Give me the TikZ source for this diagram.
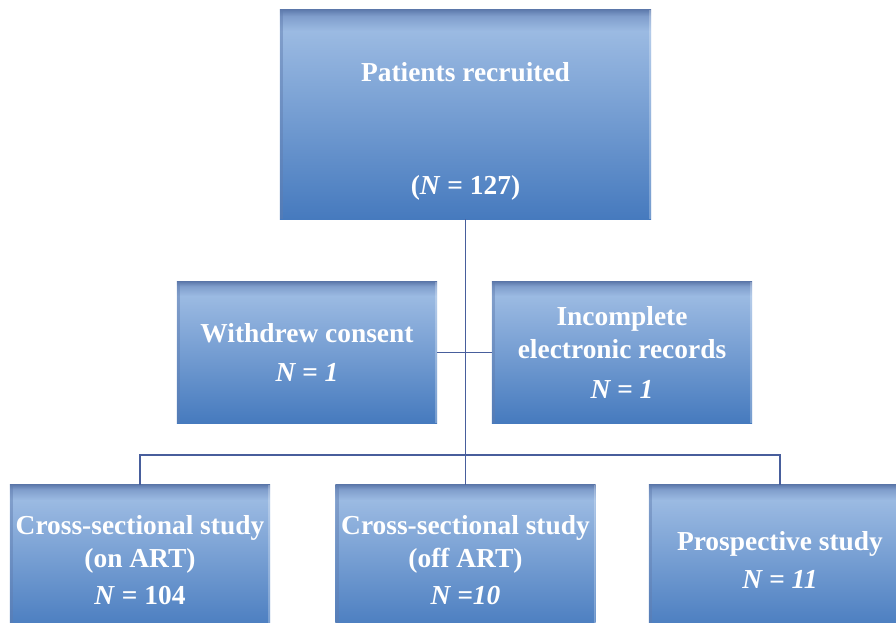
\documentclass[tikz,border=0pt]{standalone}
\usepackage{fontspec}
\setmainfont{Liberation Serif}
\usetikzlibrary{calc,positioning}

\definecolor{boxtop}{RGB}{155,186,226}
\definecolor{boxbot}{RGB}{70,122,190}
\definecolor{boxband}{RGB}{128,158,204}
\definecolor{boxrim}{RGB}{96,124,174}
\definecolor{linkcol}{RGB}{72,94,156}

\pgfdeclareverticalshading{boxshade}{100bp}{color(0bp)=(boxbot); color(25bp)=(boxbot);
  color(70bp)=(boxtop); color(73.5bp)=(boxband); color(75bp)=(boxrim); color(100bp)=(boxrim)}

\begin{document}
\begin{tikzpicture}[x=0.025cm,y=-0.025cm,
  box/.style={shading=boxshade,
    text=white,font=\fontsize{19.5}{23.5}\selectfont\bfseries,
    align=center,inner sep=0pt,
    path picture={
      \fill[boxrim,opacity=0.45]
        (path picture bounding box.north west) rectangle
        ([xshift=0.08cm]path picture bounding box.south west);
      \fill[white,opacity=0.25]
        ([xshift=-0.05cm]path picture bounding box.north east) rectangle
        (path picture bounding box.south east);}},
  boxtxt/.style={text=white,font=\fontsize{19.5}{23.5}\selectfont\bfseries,
    align=center,inner sep=0pt},
  link/.style={draw=linkcol,line width=1pt}]

  \useasboundingbox (0,0) rectangle (896,623);
  \clip (0,0) rectangle (896,623);

  % top
  \node[box,minimum width=9.275cm,minimum height=5.225cm] (recruit) at (465.5,114.5) {};
  \node[boxtxt] (recruittxt) at (465.5,131.5) {Patients recruited\\[57pt](\textit{N} = 127)};

  % excluded
  \node[box,minimum width=6.5cm,minimum height=3.525cm] (withdrew) at (307,352.5)
    {Withdrew consent\\[4.5pt]\textit{N = 1}};
  \node[box,minimum width=6.5cm,minimum height=3.525cm] (incomplete) at (622,352.5)
    {Incomplete\\electronic records\\[5pt]\textit{N = 1}};

  % studies
  \node[box,minimum width=6.5cm,minimum height=3.75cm] (onart) at (140,560)
    {Cross-sectional study\\(on ART)\\[3pt]\textit{N} = 104};
  \node[box,minimum width=6.5cm,minimum height=3.75cm] (offart) at (465.5,560)
    {Cross-sectional study\\(off ART)\\[3pt]\textit{N =10}};
  \node[box,minimum width=6.55cm,minimum height=3.75cm] (prosp) at (780,560)
    {Prospective study\\[4pt]\textit{N = 11}};

  \coordinate (split) at (465.5,455);

  \draw[link] (recruit.south) -- (offart.north);
  \draw[link] (withdrew.east) -- (incomplete.west);
  \draw[link] (onart.north) |- (split) -| (prosp.north);

\end{tikzpicture}
\end{document}
